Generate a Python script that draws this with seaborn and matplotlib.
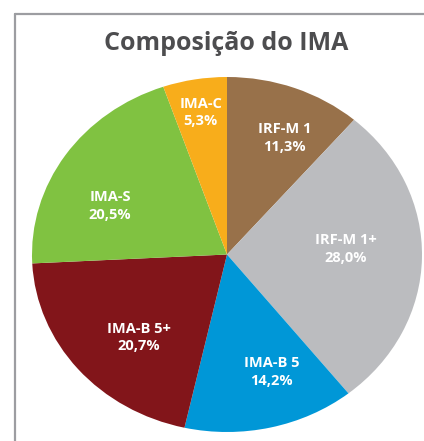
import numpy as np
import matplotlib
matplotlib.use("Agg")
import matplotlib.pyplot as plt
from matplotlib.lines import Line2D
import seaborn as sns

# data
labels = ["IRF-M 1", "IRF-M 1+", "IMA-B 5", "IMA-B 5+", "IMA-S", "IMA-C"]
shares = [11.3, 28.0, 14.2, 20.7, 20.5, 5.3]
colors = ["#98714a", "#bbbcbf", "#0097d7", "#82151a", "#80c241", "#f8ad1b"]
# label placement (radius in pie units, angle nudge in degrees)
label_radius = [0.72, 0.61, 0.70, 0.65, 0.66, 0.81]
label_shift = [-4, 4, 6, 6, 9.5, 0]

sns.set_style("white")
plt.rcParams['font.family'] = ['Open Sans', 'DejaVu Sans']

W, H = 424, 441
fig = plt.figure(figsize=(W / 100, H / 100), dpi=100)
fig.patch.set_facecolor("white")

# pie is drawn as an ellipse: axes box is wider than tall
ax = fig.add_axes([32 / W, 9 / H, 390 / W, 355 / H])
wedges, texts = ax.pie(shares, colors=colors, startangle=90, counterclock=False,
                       labels=None, wedgeprops=dict(linewidth=0))
ax.set_aspect("auto")
ax.set_xlim(-1, 1)
ax.set_ylim(-1, 1)
ax.axis("off")

for w, lab, val, r, d in zip(wedges, labels, shares, label_radius, label_shift):
    ang = np.deg2rad((w.theta1 + w.theta2) / 2 + d)
    txt = lab + "\n" + f"{val:.1f}%".replace(".", ",")
    ax.text(r * np.cos(ang), r * np.sin(ang), txt, ha="center", va="center",
            color="white", fontsize=10.5, fontweight="bold", linespacing=1.3)

# title
fig.text(226 / W, 1 - 44 / H, "Composição do IMA", ha="center", va="center",
         fontsize=18, fontweight="bold", color="#4d4d4f")

# frame lines (top and left)
gray = "#9c9da1"
y_top = 1 - 14 / H
x_left = 15 / W
fig.add_artist(Line2D([x_left, 1], [y_top, y_top], color=gray, lw=1.6,
                      transform=fig.transFigure))
fig.add_artist(Line2D([x_left, x_left], [y_top, 0], color=gray, lw=1.6,
                      transform=fig.transFigure))

fig.savefig("out.png", dpi=100)
